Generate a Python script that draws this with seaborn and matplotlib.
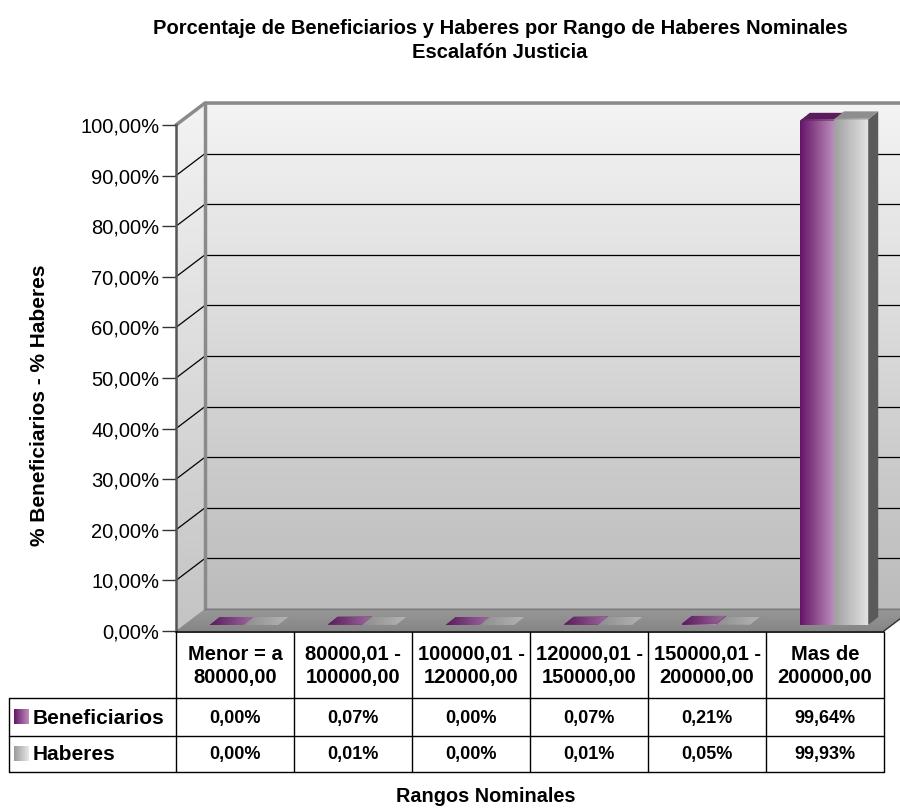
import numpy as np
import pandas as pd
import matplotlib
matplotlib.use('Agg')
import matplotlib.pyplot as plt
from matplotlib.patches import Polygon
import seaborn as sns

# data
rangos = ['Menor = a\n80000,00', '80000,01 -\n100000,00', '100000,01 -\n120000,00',
          '120000,01 -\n150000,00', '150000,01 -\n200000,00', 'Mas de\n200000,00']
series = ['Beneficiarios', 'Haberes']
beneficiarios = [0.00, 0.07, 0.00, 0.07, 0.21, 99.64]
haberes = [0.00, 0.01, 0.00, 0.01, 0.05, 99.93]
yticks = list(range(0, 101, 10))

df = pd.DataFrame({
    'rango': rangos * 2,
    'serie': [series[0]] * len(rangos) + [series[1]] * len(rangos),
    'pct': beneficiarios + haberes,
})

sns.set_theme(style='white')
plt.rcParams['font.family'] = ['Liberation Sans', 'DejaVu Sans']
plt.rcParams['text.color'] = 'black'
plt.rcParams['axes.labelcolor'] = 'black'
plt.rcParams['ytick.color'] = 'black'

W, H = 900, 810
fig = plt.figure(figsize=(9, 8.1), dpi=100)


def box(x, y, w, h):
    # pixel box (top-left origin) -> figure fraction
    return [x / W, (H - y - h) / H, w / W, h / H]


def hgrad(c1, c2, n=64):
    a = np.array(matplotlib.colors.to_rgb(c1))
    b = np.array(matplotlib.colors.to_rgb(c2))
    t = np.linspace(0, 1, n)[None, :, None]
    return a + (b - a) * t


def vgrad(c1, c2, n=64):
    return np.transpose(hgrad(c1, c2, n), (1, 0, 2))


# front plane geometry (pixels)
FX0, FX1, FY0, FY100 = 176, 884, 631, 125
DX, DY = 29, -22           # depth of the floor
BX, BY = 9, -6             # where bars stand
BDX, BDY = 10, -8          # bar depth

# back wall
wall = fig.add_axes(box(FX0 + DX, FY100 + DY, FX1 - FX0, FY0 - FY100))
wall.imshow(vgrad('#f3f3f3', '#bcbcbc'), extent=[0, 1, 0, 100], aspect='auto', zorder=0)
wall.set_xlim(0, 1)
wall.set_ylim(0, 100)
wall.set_yticks(yticks)
wall.set_xticks([])
wall.tick_params(left=False, labelleft=False)
wall.grid(axis='y', color='black', lw=0.9)
for s in wall.spines.values():
    s.set_visible(False)

# left wall, floor, edges (pixel layer above the back wall)
px = fig.add_axes([0, 0, 1, 1])
px.axis('off')
px.set_facecolor('none')
left_poly = Polygon([(FX0, FY0), (FX0 + DX, FY0 + DY), (FX0 + DX, FY100 + DY), (FX0, FY100)],
                    closed=True, fc='none', ec='none')
px.add_patch(left_poly)
im = px.imshow(vgrad('#f3f3f3', '#c4c4c4'), extent=[FX0, FX0 + DX, FY0, FY100 + DY],
               aspect='auto', zorder=1)
im.set_clip_path(left_poly)
scale = (FY0 - FY100) / 100
for v in yticks[1:-1]:
    yf = FY0 - v * scale
    px.plot([FX0, FX0 + DX], [yf, yf + DY], color='black', lw=0.9, zorder=2)
floor = Polygon([(FX0, FY0), (FX1, FY0), (FX1 + DX, FY0 + DY), (FX0 + DX, FY0 + DY)],
                closed=True, fc='#8c8c8c', ec='none', zorder=2)
px.add_patch(floor)
fi = px.imshow(vgrad('#989898', '#868686'), extent=[FX0, FX1 + DX, FY0, FY0 + DY],
               aspect='auto', zorder=2)
fi.set_clip_path(floor)
px.plot([FX0, FX0 + DX, W + 20], [FY100, FY100 + DY, FY100 + DY], color='#8a8a8a', lw=2.5, zorder=3)
px.plot([FX0 + DX, FX0 + DX], [FY100 + DY, FY0 + DY], color='#8a8a8a', lw=2.5, zorder=3)
px.plot([FX0 + DX, FX1 + DX], [FY0 + DY, FY0 + DY], color='#7a7a7a', lw=1, zorder=3)
px.plot([FX1, FX1 + DX], [FY0, FY0 + DY], color='#333333', lw=1, zorder=3)
px.set_xlim(0, W)
px.set_ylim(H, 0)

# bars
bx = fig.add_axes(box(FX0 + BX, FY100 + BY, FX1 - FX0, FY0 - FY100))
bx.set_facecolor('none')
sns.barplot(data=df, x='rango', y='pct', hue='serie', hue_order=series,
            palette=['#8e4a8e', '#c8c8c8'], width=0.58, saturation=1,
            legend=False, ax=bx, edgecolor='none')
bx.set_xlim(-0.5, 5.5)
bx.set_ylim(0, 100)
bx.axis('off')

ddx = BDX * 6 / (FX1 - FX0)
ddy = -BDY * 100 / (FY0 - FY100)
front_cols = [('#661568', '#bd8fbd'), ('#a0a0a0', '#e4e4e4')]
side_cols = ['#4a1a4c', '#5a5a5a']
top_cols = [('#5a1c5c', '#a06aa0'), ('#8e8e8e', '#b4b4b4')]
bars = list(bx.patches)
n = len(rangos)
for i, p in enumerate(bars):
    k = i // n
    x, w, h = p.get_x(), p.get_width(), p.get_height()
    z = 3 + 3 * k
    p.set_zorder(z)
    g = bx.imshow(hgrad(*front_cols[k]), extent=[x, x + w, 0, max(h, 1e-6)],
                  aspect='auto', zorder=z)
    g.set_clip_path(p)
    bx.add_patch(Polygon([(x + w, 0), (x + w + ddx, ddy), (x + w + ddx, h + ddy), (x + w, h)],
                         closed=True, fc=side_cols[k], ec='none', zorder=z + 1, clip_on=False))
    top = Polygon([(x, h), (x + w, h), (x + w + ddx, h + ddy), (x + ddx, h + ddy)],
                  closed=True, fc=top_cols[k][0], ec='none', zorder=z + 2, clip_on=False)
    bx.add_patch(top)
    tg = bx.imshow(hgrad(*top_cols[k]), extent=[x, x + w + ddx, h, h + ddy],
                   aspect='auto', zorder=z + 2)
    tg.set_clip_path(top)
    tg.set_clip_box(None)
bx.set_xlim(-0.5, 5.5)
bx.set_ylim(0, 100)

# front axis with ticks
ax = fig.add_axes(box(FX0, FY100, FX1 - FX0, FY0 - FY100))
ax.set_facecolor('none')
ax.set_ylim(0, 100)
ax.set_xlim(-0.5, 5.5)
ax.set_yticks(yticks)
ax.set_yticklabels([f'{v},00%' for v in yticks], fontsize=14.5)
ax.set_xticks([])
ax.tick_params(axis='y', left=True, direction='out', length=10, width=1, color='#333333', pad=2)
for s in ['top', 'right', 'bottom']:
    ax.spines[s].set_visible(False)
ax.spines['left'].set_color('#555555')
ax.spines['left'].set_linewidth(1.8)

# data table under the chart
tb = fig.add_axes([0, 0, 1, 1])
tb.axis('off')
tb.set_facecolor('none')
col_x = [FX0 + i * (FX1 - FX0) / n for i in range(n + 1)]
row_y = [632, 698, 736, 772]
LX = 9
for cx in col_x:
    tb.plot([cx, cx], [row_y[0], row_y[-1]], color='black', lw=1)
tb.plot([LX, LX], [row_y[1], row_y[-1]], color='black', lw=1)
tb.plot([FX0, FX1], [row_y[0], row_y[0]], color='black', lw=1.2)
for ry in row_y[1:]:
    tb.plot([LX, FX1], [ry, ry], color='black', lw=1)
for i, lab in enumerate(rangos):
    cx = (col_x[i] + col_x[i + 1]) / 2
    tb.text(cx, (row_y[0] + row_y[1]) / 2 + 1, lab, ha='center', va='center',
            fontsize=14.5, fontweight='bold', linespacing=1.3)
    for r, vals in enumerate([beneficiarios, haberes]):
        tb.text(cx, (row_y[r + 1] + row_y[r + 2]) / 2 + 1, f'{vals[i]:.2f}%'.replace('.', ','),
                ha='center', va='center', fontsize=13, fontweight='bold')
marker_cols = [('#661568', '#bd8fbd'), ('#9a9a9a', '#e8e8e8')]
for r, name in enumerate(series):
    cy = (row_y[r + 1] + row_y[r + 2]) / 2
    tb.imshow(hgrad(*marker_cols[r]), extent=[14, 29, cy + 7.5, cy - 7.5], aspect='auto')
    tb.text(33, cy + 1, name, ha='left', va='center', fontsize=15, fontweight='bold')
tb.set_xlim(0, W)
tb.set_ylim(H, 0)

# titles and axis labels
tb.text(500, 29, 'Porcentaje de Beneficiarios y Haberes por Rango de Haberes Nominales',
        ha='center', va='center', fontsize=14.5, fontweight='bold')
tb.text(500, 52, 'Escalafón Justicia', ha='center', va='center', fontsize=14.5, fontweight='bold')
tb.text(486, 797, 'Rangos Nominales', ha='center', va='center', fontsize=14.3, fontweight='bold')
tb.text(40, 405, '% Beneficiarios - % Haberes', ha='center', va='center', rotation=90,
        fontsize=15, fontweight='bold')

fig.savefig('out.png', dpi=100)
